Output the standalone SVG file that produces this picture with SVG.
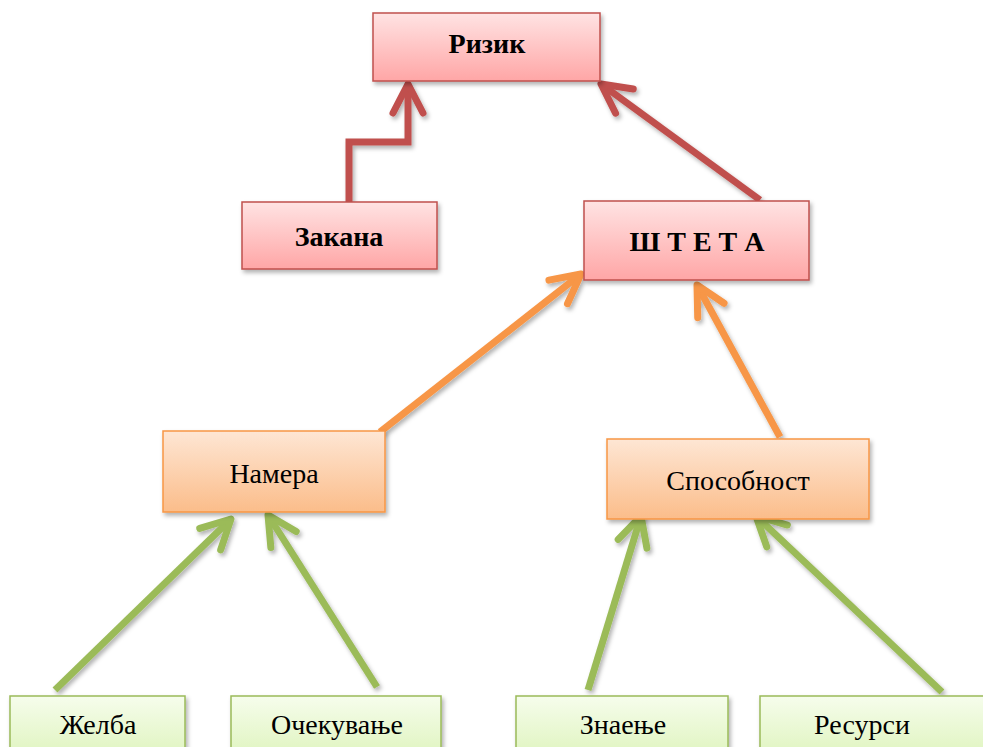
<svg xmlns="http://www.w3.org/2000/svg" width="983" height="747" viewBox="0 0 983 747">
<defs>
<linearGradient id="gRed" x1="0" y1="0" x2="0" y2="1">
<stop offset="0" stop-color="#ffe3e3"/><stop offset="1" stop-color="#ffa6a6"/>
</linearGradient>
<linearGradient id="gOr" x1="0" y1="0" x2="0" y2="1">
<stop offset="0" stop-color="#fee6d4"/><stop offset="1" stop-color="#fbbd8a"/>
</linearGradient>
<linearGradient id="gGr" x1="0" y1="0" x2="0" y2="1">
<stop offset="0" stop-color="#f6fdec"/><stop offset="1" stop-color="#dcf3b8"/>
</linearGradient>
<filter id="sh" filterUnits="userSpaceOnUse" x="0" y="0" width="983" height="747">
<feDropShadow dx="2" dy="3" stdDeviation="2" flood-color="#000" flood-opacity="0.3"/>
</filter>
<marker id="mR" markerUnits="userSpaceOnUse" markerWidth="60" markerHeight="60" refX="0" refY="0" orient="auto" overflow="visible">
<path d="M-29,-15 L0,0 L-29,15" fill="none" stroke="#c0504d" stroke-width="7" stroke-linecap="round" stroke-linejoin="round"/>
</marker>
<marker id="mO" markerUnits="userSpaceOnUse" markerWidth="60" markerHeight="60" refX="0" refY="0" orient="auto" overflow="visible">
<path d="M-29,-15 L0,0 L-29,15" fill="none" stroke="#f79646" stroke-width="7" stroke-linecap="round" stroke-linejoin="round"/>
</marker>
<marker id="mG" markerUnits="userSpaceOnUse" markerWidth="60" markerHeight="60" refX="0" refY="0" orient="auto" overflow="visible">
<path d="M-29,-15 L0,0 L-29,15" fill="none" stroke="#9bbb59" stroke-width="7" stroke-linecap="round" stroke-linejoin="round"/>
</marker>
</defs>
<style>
.red{fill:url(#gRed);stroke:#c0504d;stroke-width:1.5}
.or{fill:url(#gOr);stroke:#f79646;stroke-width:1.5}
.gr{fill:url(#gGr);stroke:#9bbb59;stroke-width:1.5}
.t{font-family:"Liberation Serif","Times New Roman",serif;font-size:28px;fill:#000;text-anchor:middle}
.b{font-weight:bold}
.c{fill:none;stroke-width:7;filter:url(#sh)}
</style>
<rect width="983" height="747" fill="#fff"/>
<g id="connectors">
<path class="c" d="M349,203 L349,142 L408,142 L408,84" stroke="#c0504d" marker-end="url(#mR)"/>
<path class="c" d="M760,200 L601,84" stroke="#c0504d" marker-end="url(#mR)"/>
<path class="c" d="M380,432 L581,274" stroke="#f79646" marker-end="url(#mO)"/>
<path class="c" d="M780,437 L697,285" stroke="#f79646" marker-end="url(#mO)"/>
<path class="c" d="M55,690 L231,519" stroke="#9bbb59" marker-end="url(#mG)"/>
<path class="c" d="M377,687 L268,515" stroke="#9bbb59" marker-end="url(#mG)"/>
<path class="c" d="M588,690 L641,516" stroke="#9bbb59" marker-end="url(#mG)"/>
<path class="c" d="M942,692 L756,516" stroke="#9bbb59" marker-end="url(#mG)"/>
</g>
<g id="rizik"><rect class="red" x="373" y="13" width="227" height="68" filter="url(#sh)"/><text class="t b" x="487" y="53">Ризик</text></g>
<g id="zakana"><rect class="red" x="242" y="202" width="195" height="67" filter="url(#sh)"/><text class="t b" x="339" y="246">Закана</text></g>
<g id="shteta"><rect class="red" x="584" y="201" width="225" height="79" filter="url(#sh)"/><text class="t b" x="697" y="251">Ш Т Е Т А</text></g>
<g id="namera"><rect class="or" x="163" y="431" width="222" height="81" filter="url(#sh)"/><text class="t" x="274" y="483">Намера</text></g>
<g id="sposobnost"><rect class="or" x="607" y="439" width="262" height="80" filter="url(#sh)"/><text class="t" x="738" y="490">Способност</text></g>
<g id="zhelba"><rect class="gr" x="10" y="696" width="175" height="70" filter="url(#sh)"/><text class="t" x="98" y="734">Желба</text></g>
<g id="ochekuvanje"><rect class="gr" x="231" y="696" width="210" height="70" filter="url(#sh)"/><text class="t" x="337" y="734">Очекување</text></g>
<g id="znaenje"><rect class="gr" x="516" y="696" width="212" height="70" filter="url(#sh)"/><text class="t" x="623" y="734">Знаење</text></g>
<g id="resursi"><rect class="gr" x="760" y="696" width="240" height="70" filter="url(#sh)"/><text class="t" x="862" y="734">Ресурси</text></g>
</svg>
